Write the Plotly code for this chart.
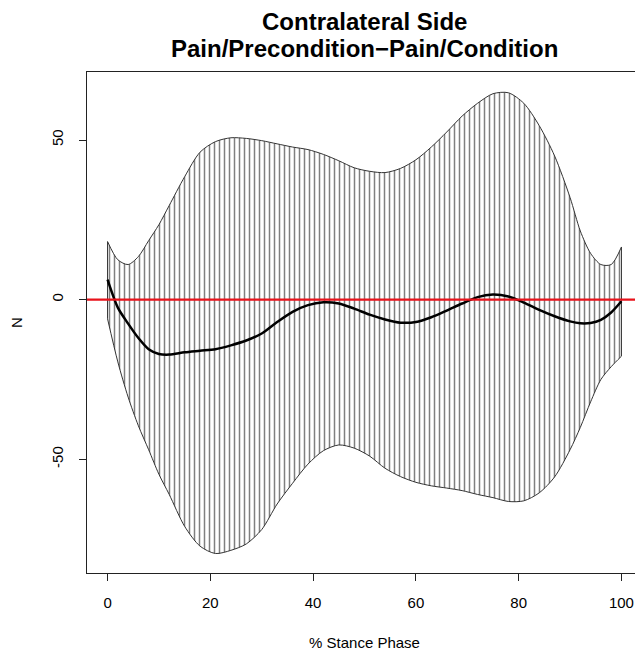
import plotly.graph_objects as go

# % stance phase sample positions
stance = [0, 2, 4, 6, 8, 10, 12, 15, 18, 21, 24, 27, 30, 33, 36, 39, 42, 45, 48, 51,
          54, 57, 60, 63, 66, 69, 72, 75, 78, 81, 84, 87, 90, 92, 94, 96, 98, 100]

# upper confidence bound (N)
upper = [18.2, 12.5, 11.0, 13.5, 18.5, 23.5, 29.5, 38.5, 46.2, 49.5, 50.7, 50.5, 49.8,
         48.8, 47.8, 47.0, 45.5, 43.5, 41.3, 40.2, 39.8, 41.1, 43.8, 47.8, 52.5, 57.5,
         61.5, 64.5, 64.8, 61.5, 54.5, 45.0, 32.0, 21.5, 14.5, 11.0, 11.0, 16.5]

# lower confidence bound (N)
lower = [-6.0, -19.5, -30.5, -39.5, -47.0, -54.7, -61.0, -71.0, -77.2, -79.5, -78.5,
         -76.5, -72.0, -64.0, -57.5, -51.5, -47.3, -45.5, -46.5, -49.0, -52.8, -55.4,
         -57.2, -58.3, -59.0, -59.8, -61.0, -62.0, -63.2, -63.0, -60.5, -55.5, -47.0,
         -40.0, -32.0, -25.0, -21.0, -17.7]

# mean difference (N)
mean = [6.25, -2.5, -7.5, -12.0, -15.5, -17.0, -17.2, -16.5, -16.0, -15.5, -14.3, -12.8,
        -10.6, -7.0, -3.8, -1.7, -0.8, -1.2, -2.8, -4.7, -6.2, -7.2, -7.0, -5.5, -3.4,
        -1.2, 0.8, 1.6, 1.0, -0.9, -3.2, -5.2, -6.8, -7.4, -7.3, -6.3, -4.0, -0.5]

ref_level = 0
x_ticks = [0, 20, 40, 60, 80, 100]
y_ticks = [-50, 0, 50]
title_lines = ["Contralateral Side", "Pain/Precondition\u2212Pain/Condition"]

FONT = "Liberation Sans, Arial, Helvetica, sans-serif"

fig = go.Figure()

# lower bound (base for fill)
fig.add_trace(go.Scatter(
    x=stance, y=lower, mode="lines",
    line=dict(color="#333333", width=1, shape="spline", smoothing=0.8),
    showlegend=False, hoverinfo="skip"))

# upper bound with vertical hatch fill
fig.add_trace(go.Scatter(
    x=stance, y=upper, mode="lines",
    line=dict(color="#333333", width=1, shape="spline", smoothing=0.8),
    fill="tonexty", fillcolor="white",
    fillpattern=dict(shape="|", size=5, solidity=0.3, fgcolor="black", bgcolor="white"),
    showlegend=False, hoverinfo="skip"))

# polygon end edges
fig.add_trace(go.Scatter(
    x=[stance[0], stance[0], None, stance[-1], stance[-1]],
    y=[lower[0], upper[0], None, lower[-1], upper[-1]],
    mode="lines", line=dict(color="#333333", width=1),
    showlegend=False, hoverinfo="skip"))

# mean line
fig.add_trace(go.Scatter(
    x=stance, y=mean, mode="lines",
    line=dict(color="black", width=2.5, shape="spline", smoothing=0.8),
    showlegend=False, hoverinfo="skip"))

# red reference line
fig.add_shape(type="line", xref="x domain", x0=0, x1=1, yref="y",
              y0=ref_level, y1=ref_level, line=dict(color="#e8121b", width=2.2),
              layer="above")

# two-line bold title
for text, ypos in zip(title_lines, [1.1008, 1.0479]):
    fig.add_annotation(text=f"<b>{text}</b>", xref="paper", yref="paper",
                       x=0.5, y=ypos, xanchor="center", yanchor="middle",
                       showarrow=False, font=dict(family=FONT, size=24, color="black"))

fig.update_layout(
    width=635, height=645,
    margin=dict(l=79, r=1, t=64, b=80),
    paper_bgcolor="white", plot_bgcolor="white",
    font=dict(family=FONT, color="black", size=15),
    xaxis=dict(
        range=[-4, 104], tickvals=x_ticks, ticktext=[str(v) for v in x_ticks],
        showgrid=False, zeroline=False,
        showline=True, mirror=True, linecolor="#222222", linewidth=1,
        ticks="outside", ticklen=7, tickcolor="#222222", ticklabelstandoff=9,
        tickfont=dict(size=15),
        title=dict(text="% Stance Phase", standoff=27, font=dict(size=15))),
    yaxis=dict(
        range=[-85.6, 71.3], tickvals=y_ticks, ticktext=[str(v) for v in y_ticks],
        showgrid=False, zeroline=False,
        showline=True, mirror=True, linecolor="#222222", linewidth=1,
        ticks="outside", ticklen=7, tickcolor="#222222", ticklabelstandoff=10,
        tickangle=-90, tickfont=dict(size=15),
        title=dict(text="N", standoff=24, font=dict(size=15))),
)

fig.write_html("out.html")
